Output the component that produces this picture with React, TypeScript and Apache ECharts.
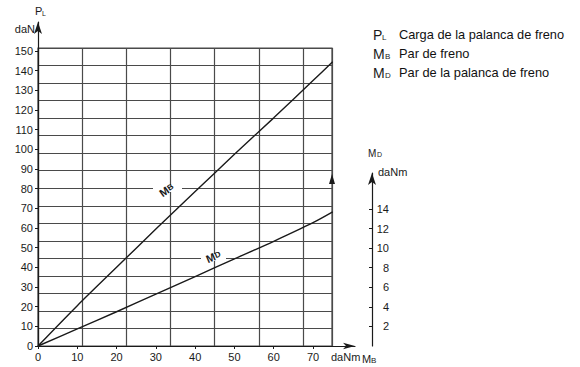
import React, { useEffect, useRef } from "react";
import * as echarts from "echarts";

// Brake torque MB (daNm) on the x axis
const mbValues = [0, 10, 20, 30, 40, 50, 60, 70, 75];
// Brake lever load PL (daN), left axis
const plValues = [0, 20.5, 40, 59.5, 78.5, 97.5, 116, 135, 144.5];
// Brake lever torque MD (daNm), right axis
const mdValues = [0, 1.75, 3.5, 5.3, 7.1, 8.9, 10.7, 12.6, 13.7];

const xTicks = [0, 10, 20, 30, 40, 50, 60, 70];
const leftTicks = [0, 10, 20, 30, 40, 50, 60, 70, 80, 90, 100, 110, 120, 130, 140, 150];
const rightTicks = [2, 4, 6, 8, 10, 12, 14];

const legendItems = [
  { sym: "P", sub: "L", text: "Carga de la palanca de freno" },
  { sym: "M", sub: "B", text: "Par de freno" },
  { sym: "M", sub: "D", text: "Par de la palanca de freno" },
];

const FONT = "Liberation Sans, Arial, Helvetica, sans-serif";
const INK = "#1a1a1a";
const GRIDC = "#4a4a4a";

export default function App() {
  const ref = useRef<HTMLDivElement>(null);
  useEffect(() => {
    if (!ref.current) return;
    const chart = echarts.init(ref.current, undefined, { renderer: "svg" });

    // pixel geometry
    const x0 = 38;
    const yBase = 346;
    const pxPerMB = 3.929;
    const pxPerPL = 1.9667;
    const pxPerMD = 9.786;
    const axTop = 22;
    const axRight = 355;
    const paperTop = 48;
    const paperRight = 332;
    const colW = 44.18;
    const rightAxisX = 372;
    const rightAxisTop = 173;

    const xMax = (axRight - x0) / pxPerMB;
    const plMax = (yBase - axTop) / pxPerPL;
    const mdHiddenMax = (yBase - axTop) / pxPerMD;
    const mdAxisMax = (yBase - rightAxisTop) / pxPerMD;

    const legendGraphics: any[] = [];
    legendItems.forEach((it, i) => {
      const cy = 35 + i * 19;
      legendGraphics.push({
        type: "text", x: 373, y: cy, z: 100,
        style: { text: it.sym, font: `14px ${FONT}`, fill: INK, textAlign: "left", textVerticalAlign: "middle" },
      });
      legendGraphics.push({
        type: "text", x: it.sym === "P" ? 382 : 385, y: cy + 2, z: 100,
        style: { text: it.sub, font: `8px ${FONT}`, fill: INK, textAlign: "left", textVerticalAlign: "middle" },
      });
      legendGraphics.push({
        type: "text", x: 399, y: cy - 1, z: 100,
        style: { text: it.text, font: `12.8px ${FONT}`, fill: "#111", textAlign: "left", textVerticalAlign: "middle" },
      });
    });

    const option: any = {
      animation: false,
      backgroundColor: "#ffffff",
      grid: [
        {
          left: x0, top: paperTop, width: paperRight - x0, height: yBase - paperTop,
          show: true, borderColor: GRIDC, borderWidth: 1.2, backgroundColor: "transparent",
        },
        { left: x0, top: axTop, width: axRight - x0, height: yBase - axTop },
        { left: rightAxisX, top: rightAxisTop, width: 10, height: yBase - rightAxisTop },
      ],
      xAxis: [
        {
          gridIndex: 0, type: "value", min: 0, max: (paperRight - x0) / colW, interval: 1,
          axisLine: { show: false }, axisTick: { show: false }, axisLabel: { show: false },
          splitLine: { show: true, lineStyle: { color: GRIDC, width: 1.2 } },
        },
        {
          gridIndex: 1, type: "value", min: 0, max: xMax, interval: 10,
          axisLine: {
            show: true, lineStyle: { color: INK, width: 1.2 },
            symbol: ["none", "arrow"], symbolSize: [5, 12], symbolOffset: [0, 0],
          },
          axisTick: { show: true, length: 3, lineStyle: { color: INK }, customValues: xTicks },
          axisLabel: {
            show: true, margin: 5, color: INK, fontSize: 11, fontFamily: FONT,
            customValues: xTicks,
            formatter: (v: number) => (xTicks.includes(v) ? String(v) : ""),
          },
          splitLine: { show: false },
        },
        { gridIndex: 2, type: "value", show: false, min: 0, max: 1 },
      ],
      yAxis: [
        {
          gridIndex: 0, type: "value", min: 0, max: 17, interval: 1,
          axisLine: { show: false }, axisTick: { show: false }, axisLabel: { show: false },
          splitLine: { show: true, lineStyle: { color: GRIDC, width: 1.2 } },
        },
        {
          gridIndex: 1, type: "value", min: 0, max: plMax, interval: 10,
          axisLine: {
            show: true, lineStyle: { color: INK, width: 1.2 },
            symbol: ["none", "arrow"], symbolSize: [6, 12],
          },
          axisTick: { show: true, length: 3, lineStyle: { color: INK }, customValues: leftTicks },
          axisLabel: {
            show: true, margin: 5, color: INK, fontSize: 11, fontFamily: FONT,
            customValues: leftTicks,
            formatter: (v: number) => (leftTicks.includes(v) ? String(v) : ""),
          },
          splitLine: { show: false },
        },
        {
          gridIndex: 1, type: "value", min: 0, max: mdHiddenMax, show: false,
          splitLine: { show: false },
        },
        {
          gridIndex: 2, type: "value", position: "left", min: 0, max: mdAxisMax, interval: 2,
          axisLine: {
            show: true, onZero: false, lineStyle: { color: INK, width: 1.2 },
            symbol: ["none", "arrow"], symbolSize: [6, 12],
          },
          axisTick: { show: true, length: 3, lineStyle: { color: INK }, customValues: rightTicks },
          axisLabel: {
            show: true, inside: true, margin: 17, align: "right", color: INK, fontSize: 11, fontFamily: FONT,
            customValues: rightTicks,
            formatter: (v: number) => (rightTicks.includes(v) ? String(v) : ""),
          },
          splitLine: { show: false },
        },
      ],
      series: [
        {
          type: "line", xAxisIndex: 1, yAxisIndex: 1, showSymbol: false, symbol: "none", smooth: 0.3,
          lineStyle: { color: INK, width: 1.4 }, z: 5,
          data: mbValues.map((m, i) => [m, plValues[i]]),
        },
        {
          type: "line", xAxisIndex: 1, yAxisIndex: 2, showSymbol: false, symbol: "none", smooth: 0.3,
          lineStyle: { color: INK, width: 1.4 }, z: 5,
          data: mbValues.map((m, i) => [m, mdValues[i]]),
        },
      ],
      graphic: [
        // left axis name
        { type: "text", x: 35, y: 11, z: 100, style: { text: "P", font: `11px ${FONT}`, fill: INK, textAlign: "left", textVerticalAlign: "middle" } },
        { type: "text", x: 42, y: 13, z: 100, style: { text: "L", font: `7px ${FONT}`, fill: INK, textAlign: "left", textVerticalAlign: "middle" } },
        { type: "text", x: 35, y: 29, z: 100, style: { text: "daN", font: `11px ${FONT}`, fill: INK, textAlign: "right", textVerticalAlign: "middle" } },
        // x axis name
        { type: "text", x: 331, y: 357, z: 100, style: { text: "daNm", font: `11px ${FONT}`, fill: INK, textAlign: "left", textVerticalAlign: "middle" } },
        { type: "text", x: 362, y: 359, z: 100, style: { text: "M", font: `11px ${FONT}`, fill: INK, textAlign: "left", textVerticalAlign: "middle" } },
        { type: "text", x: 371, y: 360, z: 100, style: { text: "B", font: `8px ${FONT}`, fill: INK, textAlign: "left", textVerticalAlign: "middle" } },
        // right axis name
        { type: "text", x: 368, y: 153, z: 100, style: { text: "M", font: `10px ${FONT}`, fill: INK, textAlign: "left", textVerticalAlign: "middle" } },
        { type: "text", x: 377, y: 154, z: 100, style: { text: "D", font: `7px ${FONT}`, fill: INK, textAlign: "left", textVerticalAlign: "middle" } },
        { type: "text", x: 378, y: 172, z: 100, style: { text: "daNm", font: `11px ${FONT}`, fill: INK, textAlign: "left", textVerticalAlign: "middle" } },
        // arrow on right border
        { type: "polygon", z: 100, shape: { points: [[329, 184], [335, 184], [332, 174]] }, style: { fill: INK } },
        // curve labels
        { type: "rect", z: 99, shape: { x: 153, y: 185, width: 29, height: 7 }, style: { fill: "#ffffff" } },
        {
          type: "text", x: 168, y: 189, rotation: 0.62, z: 100,
          style: { text: "M", font: `bold 11px ${FONT}`, fill: INK, textAlign: "right", textVerticalAlign: "middle" },
        },
        {
          type: "text", x: 168, y: 189, rotation: 0.62, z: 100,
          style: { text: "B", font: `bold 8px ${FONT}`, fill: INK, textAlign: "left", textVerticalAlign: "middle" },
        },
        { type: "rect", z: 99, shape: { x: 201, y: 254, width: 25, height: 7 }, style: { fill: "#ffffff" } },
        {
          type: "text", x: 215, y: 256, rotation: 0.4, z: 100,
          style: { text: "M", font: `bold 11px ${FONT}`, fill: INK, textAlign: "right", textVerticalAlign: "middle" },
        },
        {
          type: "text", x: 215, y: 256, rotation: 0.4, z: 100,
          style: { text: "D", font: `bold 8px ${FONT}`, fill: INK, textAlign: "left", textVerticalAlign: "middle" },
        },
        ...legendGraphics,
      ],
    };
    chart.setOption(option);
    return () => chart.dispose();
  }, []);
  return (
    <div
      ref={ref}
      style={{ position: "fixed", left: 0, top: 0, width: 580, height: 367, background: "#fff" }}
    />
  );
}
